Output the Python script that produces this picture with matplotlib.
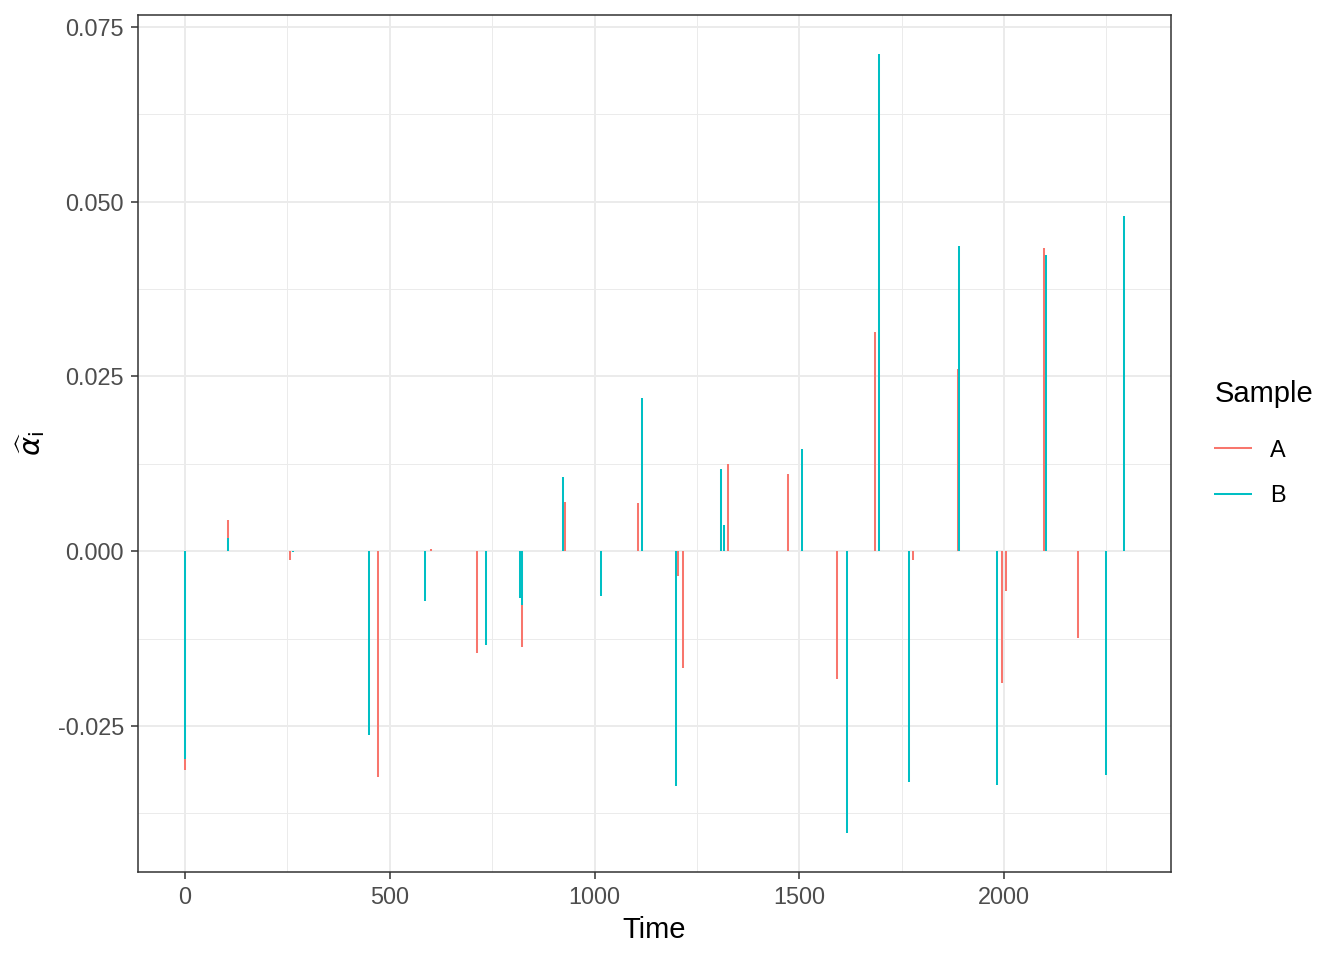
import numpy as np
import matplotlib
matplotlib.use("Agg")
import matplotlib.pyplot as plt
from matplotlib.ticker import MultipleLocator, FixedLocator

plt.rcParams['font.family'] = ['Liberation Sans', 'DejaVu Sans']

# Sample A (red)
time_a = [0, 105, 256, 471, 600, 712, 824, 927, 1105, 1205, 1217, 1327, 1473,
          1592, 1685, 1778, 1888, 1995, 2005, 2098, 2180]
alpha_a = [-0.0313, 0.0044, -0.0013, -0.0323, 0.0003, -0.0145, -0.0137, 0.0071,
           0.0069, -0.0036, -0.0167, 0.0124, 0.0111, -0.0183, 0.0313, -0.0013,
           0.0261, -0.0189, -0.0057, 0.0434, -0.0124]

# Sample B (teal)
time_b = [0, 105, 263, 449, 585, 734, 817, 824, 922, 1017, 1115, 1198, 1310, 1315,
          1507, 1617, 1695, 1768, 1890, 1983, 2102, 2249, 2293]
alpha_b = [-0.0297, 0.0019, -0.0001, -0.0263, -0.0071, -0.0134, -0.0067, -0.0077,
           0.0106, -0.0064, 0.0219, -0.0336, 0.0117, 0.0037, 0.0146, -0.0403,
           0.0711, -0.0330, 0.0437, -0.0334, 0.0423, -0.0320, 0.0479]

col_a = '#F8766D'
col_b = '#00BFC4'

fig = plt.figure(figsize=(13.44, 9.6), dpi=100)
ax = fig.add_axes([138/1344, (960-872)/960, (1171-138)/1344, (872-15)/960])

ax.vlines(time_a, 0, alpha_a, colors=col_a, linewidth=1.45, label='A', zorder=3)
ax.vlines(time_b, 0, alpha_b, colors=col_b, linewidth=1.45, label='B', zorder=4)

# ggplot style 5% expansion
xmin, xmax = 0, max(time_a + time_b)
ymin, ymax = min(alpha_a + alpha_b), max(alpha_a + alpha_b)
xpad = 0.05 * (xmax - xmin)
ypad = 0.05 * (ymax - ymin)
ax.set_xlim(xmin - xpad, xmax + xpad)
ax.set_ylim(ymin - ypad, ymax + ypad)

ax.xaxis.set_major_locator(MultipleLocator(500))
ax.xaxis.set_minor_locator(FixedLocator([250, 750, 1250, 1750, 2250]))
ax.yaxis.set_major_locator(MultipleLocator(0.025))
ax.yaxis.set_minor_locator(FixedLocator([-0.0375, -0.0125, 0.0125, 0.0375, 0.0625]))
ax.yaxis.set_major_formatter(matplotlib.ticker.FuncFormatter(lambda v, p: f'{v:.3f}'))

ax.grid(which='major', color='#EBEBEB', linewidth=1.4, zorder=0)
ax.grid(which='minor', color='#EBEBEB', linewidth=0.7, zorder=0)
ax.set_axisbelow(True)

for s in ax.spines.values():
    s.set_color('#333333')
    s.set_linewidth(1.1)

ax.tick_params(which='major', length=5, width=1.1, color='#333333',
               labelsize=16.9, labelcolor='#4D4D4D', pad=5)
ax.tick_params(which='minor', length=0)

ax.set_xlabel('Time', fontsize=21, color='black', labelpad=5)
ax.set_ylabel(r'$\widehat{\alpha}_{\mathrm{i}}$', fontsize=21, color='black', labelpad=8)

leg = ax.legend(title='Sample', loc='upper left', bbox_to_anchor=(1.033, 0.585),
                frameon=False, fontsize=16.9, title_fontsize=21,
                handlelength=1.58, handletextpad=0.8, labelspacing=0.95,
                borderaxespad=0)
leg._legend_box.align = 'left'
leg._legend_box.sep = 22

fig.savefig('out.png', dpi=100, facecolor='white')
